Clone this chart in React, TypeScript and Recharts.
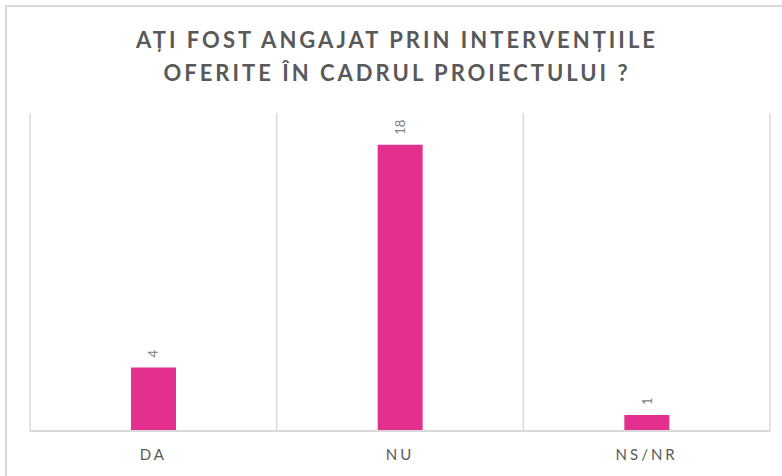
import { Bar, BarChart, CartesianGrid, LabelList, XAxis, YAxis } from "recharts"

const categories = ["DA", "NU", "NS/NR"]
const responses = [4, 18, 1]
const titleLines = ["AȚI FOST ANGAJAT PRIN INTERVENȚIILE", "OFERITE ÎN CADRUL PROIECTULUI ?"]

const data = categories.map((name, i) => ({ name, value: responses[i] }))

const gray = "#d9d9d9"
const textColor = "#595959"
const barColor = "#E3308F"

const CategoryTick = (props: any) => {
  const { x, y, payload } = props
  return (
    <text
      x={x}
      y={y + 21}
      textAnchor="middle"
      fill={textColor}
      fontSize={15}
      style={{ letterSpacing: "3px" }}
      fontFamily="Lato, 'Open Sans', sans-serif"
    >
      {payload.value}
    </text>
  )
}

const ValueLabel = (props: any) => {
  const { x, y, width, value } = props
  const cx = x + width / 2
  const ty = y - 10
  return (
    <text
      x={cx}
      y={ty}
      transform={`rotate(-90 ${cx} ${ty})`}
      textAnchor="start"
      dominantBaseline="central"
      fill="#7f7f7f"
      fontSize={13}
      fontFamily="Lato, 'Open Sans', sans-serif"
    >
      {value}
    </text>
  )
}

export default function App() {
  return (
    <div
      style={{
        position: "absolute",
        left: 0,
        top: 0,
        width: 782,
        height: 476,
        overflow: "hidden",
        background: "#ffffff",
        fontFamily: "Lato, 'Open Sans', sans-serif",
      }}
    >
      <div
        style={{
          position: "absolute",
          left: 5,
          top: 5,
          width: 820,
          height: 520,
          border: `2px solid ${gray}`,
        }}
      />
      <div
        style={{
          position: "absolute",
          left: 6,
          top: 23,
          width: 782,
          textAlign: "center",
          color: textColor,
          fontSize: 22,
          fontWeight: 700,
          letterSpacing: "3px",
          lineHeight: "33px",
        }}
      >
        {titleLines.map((l) => (
          <div key={l}>{l}</div>
        ))}
      </div>
      <div style={{ position: "absolute", left: 0, top: 0 }}>
        <BarChart width={782} height={476} data={data} margin={{ top: 113, left: 30, right: 12, bottom: 15 }}>
          <CartesianGrid
            horizontal={false}
            stroke={gray}
            strokeWidth={1.5}
            verticalCoordinatesGenerator={({ offset }: any) =>
              Array.from({ length: data.length + 1 }, (_, i) => offset.left + (i * offset.width) / data.length)
            }
          />
          <YAxis hide domain={[0, 20]} />
          <XAxis
            dataKey="name"
            height={30}
            axisLine={{ stroke: gray, strokeWidth: 2 }}
            tickLine={false}
            tick={<CategoryTick />}
            interval={0}
          />
          <Bar dataKey="value" fill={barColor} barSize={45} isAnimationActive={false}>
            <LabelList dataKey="value" content={<ValueLabel />} />
          </Bar>
        </BarChart>
      </div>
    </div>
  )
}
